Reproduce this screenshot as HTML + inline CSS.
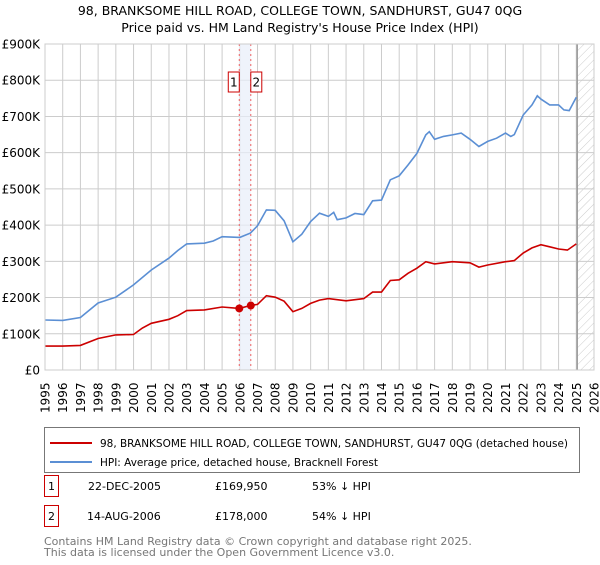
<!DOCTYPE html>
<html><head><meta charset="utf-8"><style>
body{margin:0;background:#fff;font-family:"Liberation Sans","DejaVu Sans",sans-serif;}
svg text{font-family:"DejaVu Sans","Liberation Sans",sans-serif;}
</style></head><body>
<svg id="c" width="600" height="560" xmlns="http://www.w3.org/2000/svg">
<defs><pattern id="hatch" width="6" height="6" patternUnits="userSpaceOnUse" patternTransform="rotate(45)"><line x1="0" y1="0" x2="0" y2="6" stroke="#ccc" stroke-width="1"/></pattern></defs>
<text x="300" y="15" text-anchor="middle" font-size="12.5" fill="#000">98, BRANKSOME HILL ROAD, COLLEGE TOWN, SANDHURST, GU47 0QG</text>
<text x="300" y="32" text-anchor="middle" font-size="12.5" fill="#000">Price paid vs. HM Land Registry's House Price Index (HPI)</text>
<g id="grid"></g><g id="marks"></g><g id="axes"></g>
<rect x="44.5" y="427.5" width="535" height="45" fill="#fff" stroke="#777"/>
<line x1="50" y1="443" x2="92" y2="443" stroke="#cc0000" stroke-width="2"/>
<text x="100" y="447" font-size="10.5" textLength="468" lengthAdjust="spacingAndGlyphs">98, BRANKSOME HILL ROAD, COLLEGE TOWN, SANDHURST, GU47 0QG (detached house)</text>
<line x1="50" y1="462" x2="92" y2="462" stroke="#5b8fd4" stroke-width="2"/>
<text x="100" y="466" font-size="10.5" textLength="278" lengthAdjust="spacingAndGlyphs">HPI: Average price, detached house, Bracknell Forest</text>
<g>
<rect x="44.5" y="475.5" width="14" height="21" fill="#fff" stroke="#cc0000"/>
<text x="51.5" y="490" text-anchor="middle" font-size="11">1</text>
<text x="88" y="490" font-size="11">22-DEC-2005</text>
<text x="215" y="490" font-size="11">£169,950</text>
<text x="312" y="490" font-size="11">53% ↓ HPI</text></g>
<g>
<rect x="44.5" y="505.5" width="14" height="21" fill="#fff" stroke="#cc0000"/>
<text x="51.5" y="520" text-anchor="middle" font-size="11">2</text>
<text x="87" y="520" font-size="11">14-AUG-2006</text>
<text x="215" y="520" font-size="11">£178,000</text>
<text x="312" y="520" font-size="11">54% ↓ HPI</text></g>
<text x="44" y="545" font-size="11" fill="#777">Contains HM Land Registry data © Crown copyright and database right 2025.</text>
<text x="44" y="556" font-size="11" fill="#777">This data is licensed under the Open Government Licence v3.0.</text>
</svg>
<script>
const hpiYears=[1995,1996,1997,1998,1999,2000,2001,2002,2002.5,2003,2004,2004.5,2005,2006,2006.6,2007,2007.5,2008,2008.5,2009,2009.5,2010,2010.5,2011,2011.3,2011.5,2012,2012.5,2013,2013.5,2014,2014.5,2015,2015.5,2016,2016.5,2016.7,2017,2017.5,2018,2018.5,2019,2019.5,2020,2020.5,2021,2021.3,2021.5,2022,2022.5,2022.8,2023,2023.5,2024,2024.3,2024.6,2025];
const hpiValues=[138,137,145,185,201,235,276,309,330,348,350,356,368,366,378,398,442,441,412,354,375,410,433,424,435,415,420,432,429,467,469,525,536,566,598,649,658,637,645,649,654,637,617,631,640,654,645,650,704,732,757,748,732,732,718,716,753];
const ppYears=[1995,1996,1997,1998,1999,2000,2000.5,2001,2002,2002.5,2003,2004,2005,2005.97,2006.6,2007,2007.5,2008,2008.5,2009,2009.5,2010,2010.5,2011,2012,2013,2013.5,2014,2014.5,2015,2015.5,2016,2016.5,2017,2018,2019,2019.5,2020,2021,2021.5,2022,2022.5,2023,2023.5,2024,2024.5,2025];
const ppValues=[66,66,68,87,97,98,116,129,140,150,164,166,174,170,178,181,205,201,190,161,170,184,193,197,191,197,215,215,247,249,267,281,299,293,299,296,284,290,299,302,323,337,346,340,334,331,348];
const saleYears=[2005.97,2006.62];
const saleValues=[169.95,178];
const saleLabels=["1","2"];
const yTicks=[0,100,200,300,400,500,600,700,800,900];
const yTickLabels=["£0","£100K","£200K","£300K","£400K","£500K","£600K","£700K","£800K","£900K"];
const xTicks=[1995,1996,1997,1998,1999,2000,2001,2002,2003,2004,2005,2006,2007,2008,2009,2010,2011,2012,2013,2014,2015,2016,2017,2018,2019,2020,2021,2022,2023,2024,2025,2026];
const dataEnd=2025.05;
const L=45,R=594,T=44,B=370;
const x=v=>L+(v-1995)/(2026-1995)*(R-L);
const y=v=>B-v/900*(B-T);
const NS="http://www.w3.org/2000/svg";
function mk(tag,attrs,parent){const e=document.createElementNS(NS,tag);for(const k in attrs)e.setAttribute(k,attrs[k]);parent.appendChild(e);return e;}
const grid=document.getElementById('grid'),marks=document.getElementById('marks'),axes=document.getElementById('axes');
yTicks.forEach((t,i)=>{
 const l=mk('line',{x1:L,x2:R,y1:y(t),y2:y(t),stroke:'#ccc'},grid);
 
 
 const tx=mk('text',{x:40,y:y(t)+4.5,'text-anchor':'end','font-size':'12'},axes);
 tx.textContent=yTickLabels[i];
 
 
});
xTicks.forEach(t=>{
 const l=mk('line',{x1:x(t),x2:x(t),y1:T,y2:B,stroke:'#ccc'},grid);
 
 
 const px=(x(t)+4.5).toFixed(1), py=B+43;
 const tx=mk('text',{x:px,y:py,'font-size':'12',transform:'rotate(-90 '+px+' '+py+')'},axes);
 tx.textContent=String(t);
 
 
});
const hz=mk('rect',{x:x(dataEnd),y:T,width:R-x(dataEnd),height:B-T,fill:'url(#hatch)'},grid);


const el=mk('line',{x1:x(dataEnd),x2:x(dataEnd),y1:T,y2:B,stroke:'#999','stroke-width':1.5},grid);


const band=mk('rect',{x:x(saleYears[0]),y:T,width:x(saleYears[1])-x(saleYears[0]),height:B-T,fill:'#e8eefa',opacity:0.7},grid);


saleYears.forEach((s,i)=>{
 const l=mk('line',{x1:x(s),x2:x(s),y1:T,y2:B,stroke:'#f06060','stroke-dasharray':'2,3'},grid);
 
 
});
const fr=mk('rect',{x:L,y:T,width:R-L,height:B-T,fill:'none',stroke:'#ccc'},axes);


function path(xs,vs){return xs.map((v,i)=>(i?'L':'M')+x(v).toFixed(1)+','+y(vs[i]).toFixed(1)).join('');}
const hp=mk('path',{d:path(hpiYears,hpiValues),fill:'none',stroke:'#5b8fd4','stroke-width':1.6},marks);


const pp=mk('path',{d:path(ppYears,ppValues),fill:'none',stroke:'#cc0000','stroke-width':1.6},marks);


saleYears.forEach((s,i)=>{
 const c=mk('circle',{cx:x(s),cy:y(saleValues[i]),r:4,fill:'#cc0000'},marks);
 
 
 const bw=11;
 const bx=i===0?x(s)-bw:x(s);
 const r=mk('rect',{x:bx,y:72,width:bw,height:20,fill:'#fff',stroke:'#cc0000'},marks);
 
 
 const t=mk('text',{x:bx+bw/2,y:86.5,'text-anchor':'middle','font-size':'12'},marks);
 t.textContent=saleLabels[i];
 
 
});
</script>
</body></html>
